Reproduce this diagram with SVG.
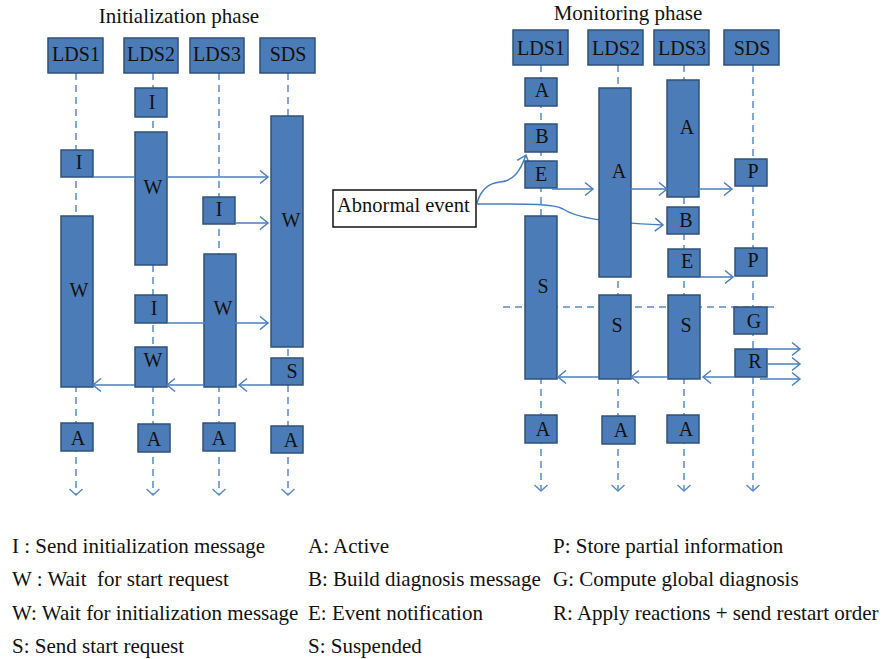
<svg xmlns="http://www.w3.org/2000/svg" width="885" height="659" viewBox="0 0 885 659">
<style>
text{font-family:"Liberation Serif","Times New Roman",serif;fill:#111;}
.lbl{font-size:20px;text-anchor:middle;}
.ttl{font-size:21px;text-anchor:middle;}
.leg{font-size:21px;white-space:pre;}
.box{fill:#4C7CB8;stroke:#2F5078;stroke-width:1.5;}
.life{stroke:#5B8BC7;stroke-width:1.5;stroke-dasharray:7 5;fill:none;}
.msg{stroke:#4A7EBB;stroke-width:1.5;fill:none;}
</style>
<defs>
<marker id="ah" markerUnits="userSpaceOnUse" markerWidth="20" markerHeight="20" viewBox="-10 -10 20 20" refX="0" refY="0" orient="auto">
<path d="M-8,-6.5 L0,0 L-8,6.5" fill="none" stroke="#4A7EBB" stroke-width="1.5" stroke-dasharray="none"/>
</marker>
<marker id="dh" markerUnits="userSpaceOnUse" markerWidth="20" markerHeight="20" viewBox="-10 -10 20 20" refX="0" refY="0" orient="auto">
<path d="M-6,-6.5 L0,0 L-6,6.5" fill="none" stroke="#5B8BC7" stroke-width="1.5" stroke-dasharray="none"/>
</marker>
</defs>

<text class="ttl" x="179" y="23">Initialization phase</text>
<text class="ttl" x="628" y="20">Monitoring phase</text>

<g id="lifelines">
<line class="life" x1="76" y1="73" x2="76" y2="495" marker-end="url(#dh)"/>
<line class="life" x1="153" y1="73" x2="153" y2="495" marker-end="url(#dh)"/>
<line class="life" x1="219" y1="73" x2="219" y2="495" marker-end="url(#dh)"/>
<line class="life" x1="288" y1="73" x2="288" y2="495" marker-end="url(#dh)"/>
<line class="life" x1="541" y1="65" x2="541" y2="491" marker-end="url(#dh)"/>
<line class="life" x1="618" y1="65" x2="618" y2="491" marker-end="url(#dh)"/>
<line class="life" x1="684" y1="65" x2="684" y2="491" marker-end="url(#dh)"/>
<line class="life" x1="753" y1="65" x2="753" y2="491" marker-end="url(#dh)"/>
<line class="life" x1="503" y1="307" x2="779" y2="307"/>
</g>

<g id="event-curves">
<path class="msg" d="M477,203 C481,189 489,183 500,182 C513,181 520,172 526,155" marker-end="url(#ah)"/>
<path class="msg" d="M477,204 C520,204 553,203 563,209 C575,217 598,222 663,225" marker-end="url(#ah)"/>
</g>

<g id="init-LDS1-header"><rect class="box" x="48" y="38" width="55" height="35"/><text class="lbl" x="76" y="61">LDS1</text></g>
<g id="init-LDS2-header"><rect class="box" x="124" y="38" width="54" height="35"/><text class="lbl" x="151" y="61">LDS2</text></g>
<g id="init-LDS3-header"><rect class="box" x="190" y="38" width="54" height="35"/><text class="lbl" x="217" y="61">LDS3</text></g>
<g id="init-SDS-header"><rect class="box" x="260" y="38" width="55" height="35"/><text class="lbl" x="288" y="61">SDS</text></g>

<g id="init-LDS2-I1"><rect class="box" x="135" y="88" width="32" height="29"/><text class="lbl" x="152" y="109">I</text></g>
<g id="init-LDS2-W1"><rect class="box" x="135" y="132" width="32" height="133"/><text class="lbl" x="153" y="194">W</text></g>
<g id="init-SDS-W"><rect class="box" x="271" y="116" width="32" height="231"/><text class="lbl" x="291" y="227">W</text></g>
<g id="init-LDS1-I"><rect class="box" x="61" y="150" width="32" height="27"/><text class="lbl" x="79" y="169">I</text></g>
<g id="init-LDS1-W"><rect class="box" x="61" y="216" width="32" height="171"/><text class="lbl" x="79" y="297">W</text></g>
<g id="init-LDS3-I"><rect class="box" x="203" y="197" width="32" height="27"/><text class="lbl" x="219" y="216">I</text></g>
<g id="init-LDS3-W"><rect class="box" x="204" y="254" width="32" height="133"/><text class="lbl" x="223" y="315">W</text></g>
<g id="init-LDS2-I2"><rect class="box" x="135" y="295" width="32" height="28"/><text class="lbl" x="154" y="315">I</text></g>
<g id="init-LDS2-W2"><rect class="box" x="135" y="347" width="32" height="40"/><text class="lbl" x="153" y="367">W</text></g>
<g id="init-SDS-S"><rect class="box" x="271" y="358" width="32" height="27"/><text class="lbl" x="292" y="378">S</text></g>
<g id="init-LDS1-A"><rect class="box" x="61" y="423" width="32" height="28"/><text class="lbl" x="78" y="445">A</text></g>
<g id="init-LDS2-A"><rect class="box" x="138" y="424" width="32" height="28"/><text class="lbl" x="154" y="446">A</text></g>
<g id="init-LDS3-A"><rect class="box" x="203" y="423" width="32" height="28"/><text class="lbl" x="219" y="445">A</text></g>
<g id="init-SDS-A"><rect class="box" x="271" y="426" width="32" height="27"/><text class="lbl" x="291" y="447">A</text></g>

<g id="mon-LDS1-header"><rect class="box" x="513" y="30" width="55" height="35"/><text class="lbl" x="541" y="55">LDS1</text></g>
<g id="mon-LDS2-header"><rect class="box" x="588" y="30" width="55" height="35"/><text class="lbl" x="616" y="55">LDS2</text></g>
<g id="mon-LDS3-header"><rect class="box" x="654" y="30" width="55" height="35"/><text class="lbl" x="682" y="55">LDS3</text></g>
<g id="mon-SDS-header"><rect class="box" x="724" y="30" width="55" height="35"/><text class="lbl" x="752" y="55">SDS</text></g>

<g id="mon-LDS1-A"><rect class="box" x="525" y="78" width="32" height="28"/><text class="lbl" x="542" y="97">A</text></g>
<g id="mon-LDS1-B"><rect class="box" x="525" y="124" width="32" height="28"/><text class="lbl" x="542" y="143">B</text></g>
<g id="mon-LDS1-E"><rect class="box" x="525" y="161" width="32" height="27"/><text class="lbl" x="541" y="181">E</text></g>
<g id="mon-LDS2-A"><rect class="box" x="599" y="88" width="32" height="189"/><text class="lbl" x="619" y="178">A</text></g>
<g id="mon-LDS3-A"><rect class="box" x="667" y="80" width="32" height="117"/><text class="lbl" x="687" y="134">A</text></g>
<g id="mon-SDS-P1"><rect class="box" x="735" y="159" width="32" height="27"/><text class="lbl" x="753" y="178">P</text></g>
<g id="mon-LDS3-B"><rect class="box" x="667" y="207" width="32" height="27"/><text class="lbl" x="686" y="227">B</text></g>
<g id="mon-LDS3-E"><rect class="box" x="668" y="249" width="32" height="28"/><text class="lbl" x="687" y="268">E</text></g>
<g id="mon-SDS-P2"><rect class="box" x="735" y="248" width="32" height="28"/><text class="lbl" x="753" y="267">P</text></g>
<g id="mon-LDS1-S"><rect class="box" x="525" y="216" width="32" height="163"/><text class="lbl" x="543" y="293">S</text></g>
<g id="mon-LDS2-S"><rect class="box" x="599" y="295" width="32" height="84"/><text class="lbl" x="617" y="332">S</text></g>
<g id="mon-LDS3-S"><rect class="box" x="668" y="295" width="32" height="84"/><text class="lbl" x="686" y="332">S</text></g>
<g id="mon-SDS-G"><rect class="box" x="734" y="307" width="33" height="27"/><text class="lbl" x="754" y="328">G</text></g>
<g id="mon-SDS-R"><rect class="box" x="735" y="349" width="32" height="28"/><text class="lbl" x="755" y="368">R</text></g>
<g id="mon-LDS1-A2"><rect class="box" x="525" y="415" width="32" height="28"/><text class="lbl" x="543" y="436">A</text></g>
<g id="mon-LDS2-A2"><rect class="box" x="602" y="416" width="33" height="28"/><text class="lbl" x="621" y="437">A</text></g>
<g id="mon-LDS3-A2"><rect class="box" x="667" y="415" width="32" height="28"/><text class="lbl" x="686" y="436">A</text></g>

<g id="abnormal-event"><rect x="333" y="190" width="143" height="37" fill="#fff" stroke="#111" stroke-width="1.5"/><text x="337" y="212" style="font-size:20.5px">Abnormal event</text></g>

<g id="connectors">
<line class="msg" x1="93" y1="177" x2="135" y2="177"/>
<line class="msg" x1="167" y1="177" x2="268" y2="177" marker-end="url(#ah)"/>
<line class="msg" x1="235" y1="223" x2="268" y2="223" marker-end="url(#ah)"/>
<line class="msg" x1="167" y1="323" x2="268" y2="323" marker-end="url(#ah)"/>
<line class="msg" x1="271" y1="385" x2="239" y2="385" marker-end="url(#ah)"/>
<line class="msg" x1="204" y1="385" x2="167" y2="385" marker-end="url(#ah)"/>
<line class="msg" x1="135" y1="385" x2="93" y2="385" marker-end="url(#ah)"/>
<line class="msg" x1="552" y1="189" x2="593" y2="189" marker-end="url(#ah)"/>
<line class="msg" x1="625" y1="189" x2="667" y2="189" marker-end="url(#ah)"/>
<line class="msg" x1="690" y1="189" x2="732" y2="189" marker-end="url(#ah)"/>
<line class="msg" x1="700" y1="277" x2="733" y2="277" marker-end="url(#ah)"/>
<line class="msg" x1="760" y1="349" x2="800" y2="349" marker-end="url(#ah)"/>
<line class="msg" x1="767" y1="364" x2="800" y2="364" marker-end="url(#ah)"/>
<line class="msg" x1="760" y1="379" x2="800" y2="379" marker-end="url(#ah)"/>
<line class="msg" x1="735" y1="377" x2="703" y2="377" marker-end="url(#ah)"/>
<line class="msg" x1="668" y1="377" x2="631" y2="377" marker-end="url(#ah)"/>
<line class="msg" x1="599" y1="377" x2="558" y2="377" marker-end="url(#ah)"/>
</g>

<g id="legend">
<text class="leg" x="12" y="553">I : Send initialization message</text>
<text class="leg" x="12" y="586">W : Wait  for start request</text>
<text class="leg" x="12" y="620">W: Wait for initialization message</text>
<text class="leg" x="12" y="653">S: Send start request</text>
<text class="leg" x="308" y="553">A: Active</text>
<text class="leg" x="308" y="586">B: Build diagnosis message</text>
<text class="leg" x="308" y="620">E: Event notification</text>
<text class="leg" x="308" y="653">S: Suspended</text>
<text class="leg" x="553" y="553">P: Store partial information</text>
<text class="leg" x="553" y="586">G: Compute global diagnosis</text>
<text class="leg" x="553" y="620">R: Apply reactions + send restart order</text>
</g>
</svg>
